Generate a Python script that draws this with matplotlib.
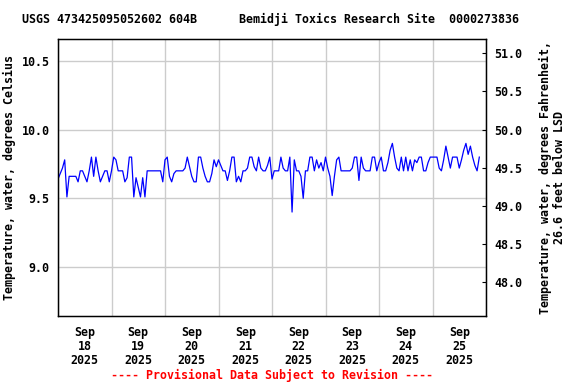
import matplotlib
matplotlib.use("Agg")
import matplotlib.pyplot as plt
import pandas as pd

title = "USGS 473425095052602 604B      Bemidji Toxics Research Site  0000273836"
ylabel_left = "Temperature, water, degrees Celsius"
ylabel_right = "Temperature, water, degrees Fahrenheit,\n26.6 feet below LSD"
footer = "---- Provisional Data Subject to Revision ----"

start_time = "2025-09-18 00:00"
# Hourly water temperature (deg C)
day1 = [9.64, 9.68, 9.72, 9.78, 9.51, 9.66, 9.66, 9.66, 9.66, 9.62, 9.70, 9.70,
        9.66, 9.62, 9.70, 9.80, 9.66, 9.80, 9.70, 9.62, 9.66, 9.70, 9.70, 9.62]
day2 = [9.70, 9.80, 9.78, 9.70, 9.70, 9.70, 9.62, 9.65, 9.80, 9.80, 9.51, 9.65,
        9.58, 9.51, 9.65, 9.51, 9.70, 9.70, 9.70, 9.70, 9.70, 9.70, 9.70, 9.62]
day3 = [9.78, 9.80, 9.66, 9.62, 9.68, 9.70, 9.70, 9.70, 9.70, 9.72, 9.80, 9.73,
        9.66, 9.62, 9.62, 9.80, 9.80, 9.72, 9.66, 9.62, 9.62, 9.68, 9.78, 9.73]
day4 = [9.78, 9.74, 9.70, 9.70, 9.63, 9.70, 9.80, 9.80, 9.62, 9.66, 9.62, 9.70,
        9.70, 9.72, 9.80, 9.80, 9.73, 9.70, 9.80, 9.72, 9.70, 9.70, 9.74, 9.80]
day5 = [9.64, 9.70, 9.70, 9.70, 9.80, 9.72, 9.70, 9.70, 9.80, 9.40, 9.78, 9.70,
        9.70, 9.66, 9.50, 9.70, 9.70, 9.80, 9.80, 9.70, 9.78, 9.72, 9.76, 9.70]
day6 = [9.80, 9.72, 9.66, 9.52, 9.66, 9.78, 9.80, 9.70, 9.70, 9.70, 9.70, 9.70,
        9.72, 9.80, 9.80, 9.63, 9.80, 9.72, 9.70, 9.70, 9.70, 9.80, 9.80, 9.70]
day7 = [9.76, 9.80, 9.70, 9.70, 9.76, 9.85, 9.90, 9.80, 9.72, 9.70, 9.80, 9.70,
        9.80, 9.70, 9.78, 9.70, 9.78, 9.76, 9.80, 9.80, 9.70, 9.70, 9.76, 9.80]
day8 = [9.80, 9.80, 9.80, 9.72, 9.70, 9.78, 9.88, 9.80, 9.72, 9.80, 9.80, 9.80,
        9.72, 9.78, 9.85, 9.90, 9.82, 9.88, 9.80, 9.74, 9.70, 9.80]

temps = day1 + day2 + day3 + day4 + day5 + day6 + day7 + day8
times = pd.date_range(start_time, periods=len(temps), freq="h")

left_ticks = [9.0, 9.5, 10.0, 10.5]
right_ticks = [48.0, 48.5, 49.0, 49.5, 50.0, 50.5, 51.0]
day_labels = ["Sep\n18\n2025", "Sep\n19\n2025", "Sep\n20\n2025", "Sep\n21\n2025",
              "Sep\n22\n2025", "Sep\n23\n2025", "Sep\n24\n2025", "Sep\n25\n2025"]

font = {"family": "DejaVu Sans Mono", "weight": "bold", "size": 8.4}
plt.rcParams["font.family"] = "DejaVu Sans Mono"
plt.rcParams["font.weight"] = "bold"

fig = plt.figure(figsize=(5.76, 3.84), dpi=100)
ax = fig.add_axes([58/576, 1-316/384, (486-58)/576, (316-39)/384])

ax.plot(times, temps, color="#0000ff", lw=0.9)

ylo, yhi = 8.643, 10.66
ax.set_ylim(ylo, yhi)
x0 = pd.Timestamp("2025-09-18 00:00")
x1 = pd.Timestamp("2025-09-26 00:00")
ax.set_xlim(x0, x1)

ax.set_yticks(left_ticks)
ax.set_yticklabels([f"{v:.1f}" for v in left_ticks], fontdict=font)
ax.tick_params(axis="y", length=0, pad=6)

midnights = pd.date_range(x0, x1, freq="D")
noons = pd.date_range("2025-09-18 12:00", periods=8, freq="D")
ax.set_xticks(midnights)
ax.set_xticklabels([])
ax.set_xticks(noons, minor=True)
ax.set_xticklabels(day_labels, minor=True, fontdict=font, linespacing=1.1)
ax.tick_params(axis="x", which="both", length=0, pad=7)

ax.grid(True, which="major", color="#cccccc", lw=1)
ax.set_axisbelow(True)
for s in ax.spines.values():
    s.set_color("black")
    s.set_linewidth(1)

ax.set_ylabel(ylabel_left, fontdict=font, labelpad=4)

ax2 = ax.twinx()
ax2.set_ylim(ylo*1.8+32, yhi*1.8+32)
ax2.set_yticks(right_ticks)
ax2.set_yticklabels([f"{v:.1f}" for v in right_ticks], fontdict=font)
ax2.tick_params(axis="y", direction="in", length=3, pad=6)
ax2.set_ylabel(ylabel_right, fontdict=font, labelpad=12, linespacing=1.1)

fig.text(22/576, 1-19/384, title, fontdict=font, ha="left", va="center")
fig.text(272/576, 1-375/384, footer, fontdict=font, color="red", ha="center", va="center")

fig.savefig("out.png", dpi=100)
